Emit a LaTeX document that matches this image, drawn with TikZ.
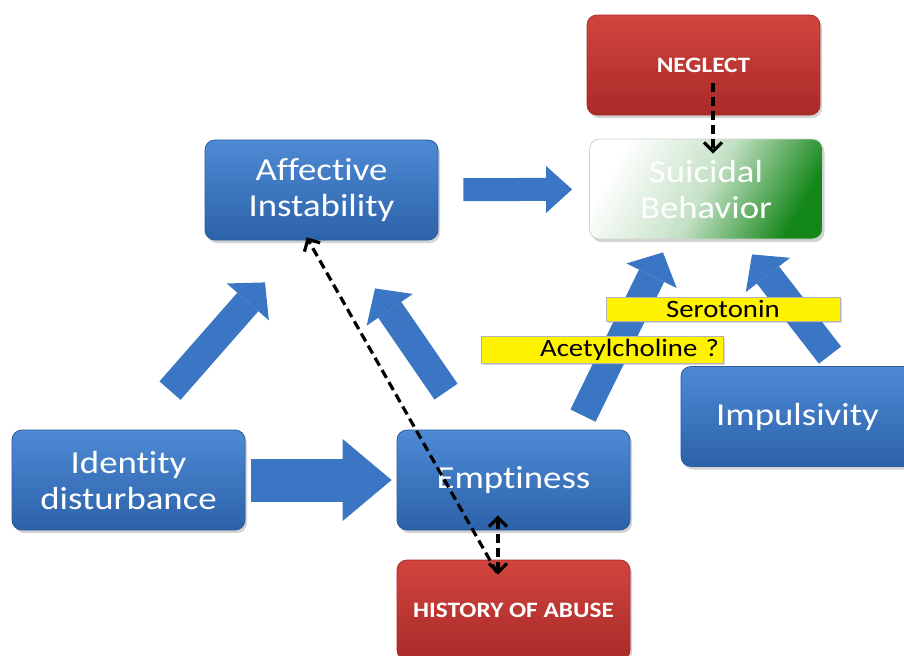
\documentclass[tikz,border=0pt]{standalone}
\usepackage{fontspec}
\setmainfont[FakeStretch=1.15,Ligatures=NoCommon]{Carlito}
\usetikzlibrary{arrows.meta,shadows}

\definecolor{boxtop}{RGB}{78,138,212}
\definecolor{boxbot}{RGB}{44,98,170}
\definecolor{boxline}{RGB}{40,90,155}
\definecolor{redtop}{RGB}{210,68,62}
\definecolor{redbot}{RGB}{168,42,40}
\definecolor{flowblue}{RGB}{58,118,195}
\definecolor{sgreen}{RGB}{20,135,25}

\begin{document}
\begin{tikzpicture}[
        x=0.5pt, y=-0.5pt,
        >={Straight Barb[length=4.5pt,width=9pt]},
        factor/.style={
          rectangle,
          rounded corners=5pt,
          minimum width=116.5pt,
          minimum height=50pt,
          top color=boxtop, bottom color=boxbot,
          draw=boxline,
          drop shadow={shadow xshift=1pt,shadow yshift=-1.5pt,opacity=0.35},
          text=white,
          align=center,
          font=\fontsize{16}{18}\selectfont
        },
        trauma/.style={
          factor,
          top color=redtop, bottom color=redbot,
          draw=redbot,
          font=\fontsize{11}{13}\selectfont\bfseries
        },
        outcome/.style={
          factor,
          left color=white, right color=sgreen,
          middle color=white!75!sgreen,
          shading angle=60,
          draw=gray!35
        },
        marker/.style={
          rectangle,
          fill=yellow,
          draw=gray!60,
          drop shadow={shadow xshift=0.8pt,shadow yshift=-0.8pt,opacity=0.3},
          inner xsep=2pt, inner ysep=0.5pt,
          font=\fontsize{12.5}{13}\selectfont
        },
        flow/.style={
          draw=flowblue,
          line width=14pt,
          -{Triangle[length=13pt,width=28pt,line width'=0pt]}
        },
        wideflow/.style={flow,line width=21.5pt,
          -{Triangle[length=24.5pt,width=41pt,line width'=0pt]}},
        thinflow/.style={flow,line width=11.5pt,
          -{Triangle[length=13pt,width=23.5pt,line width'=0pt]}},
        link/.style={
          black,
          line width=1.6pt,
          dash pattern=on 4.5pt off 2.5pt,
          ->
        }]
      \useasboundingbox (0,0) rectangle (904,655);
      \clip (0,0) rectangle (904,655);

      % the boxes
      \node[trauma] (neglect) at (703.5,65) {NEGLECT};
      \node[outcome] (suicidal) at (706,189) {Suicidal\\Behavior};
      \node[factor] (affective) at (321.5,190) {Affective\\Instability};
      \node[factor] (identity) at (128.5,480) {Identity\\disturbance};
      \node[factor] (emptiness) at (513.5,480) {Emptiness};
      \node[factor] (impulsivity) at (797.5,416.5) {Impulsivity};
      \node[trauma] (abuse) at (513.5,610) {HISTORY OF ABUSE};

      % block arrows
      \draw[thinflow,shorten <=12.5pt,shorten >=8.5pt] (affective) -- (suicidal);
      \draw[wideflow,shorten <=3pt,shorten >=2.5pt] (identity) -- (emptiness);
      \draw[flow] ([xshift=20.75pt,yshift=19.5pt]identity.north)
        -- ([xshift=-28.25pt,yshift=-21pt]affective.south);
      \draw[flow] ([xshift=-33.75pt,yshift=19pt]emptiness.north)
        -- ([xshift=26.75pt,yshift=-24pt]affective.south);
      \draw[flow] ([xshift=34.75pt,yshift=7pt]emptiness.north)
        -- ([xshift=-21.5pt,yshift=-6.5pt]suicidal.south);
      \draw[flow] ([xshift=16.25pt,yshift=5.5pt]impulsivity.north)
        -- ([xshift=23pt,yshift=-7.5pt]suicidal.south);

      % transmitters
      \node[marker,minimum width=117pt,minimum height=12pt] (serotonin) at (723,309) {Serotonin};
      \node[marker,minimum height=13.5pt,text width=117pt,align=right] (acetyl) at (602,349.5) {Acetylcholine ?};

      % dashed links
      \draw[link] ([xshift=4.75pt,yshift=-9pt]neglect.center)
        -- ([xshift=3.5pt,yshift=-7.5pt]suicidal.north);
      \draw[link,<->] ([xshift=-7.75pt,yshift=-7.5pt]abuse.north)
        -- ([xshift=-7.75pt,yshift=7.5pt]emptiness.south);
      \draw[link] ([xshift=-8.25pt,yshift=-6.5pt]abuse.north)
        -- ([xshift=-7.4pt,yshift=1.5pt]affective.south);
\end{tikzpicture}
\end{document}
